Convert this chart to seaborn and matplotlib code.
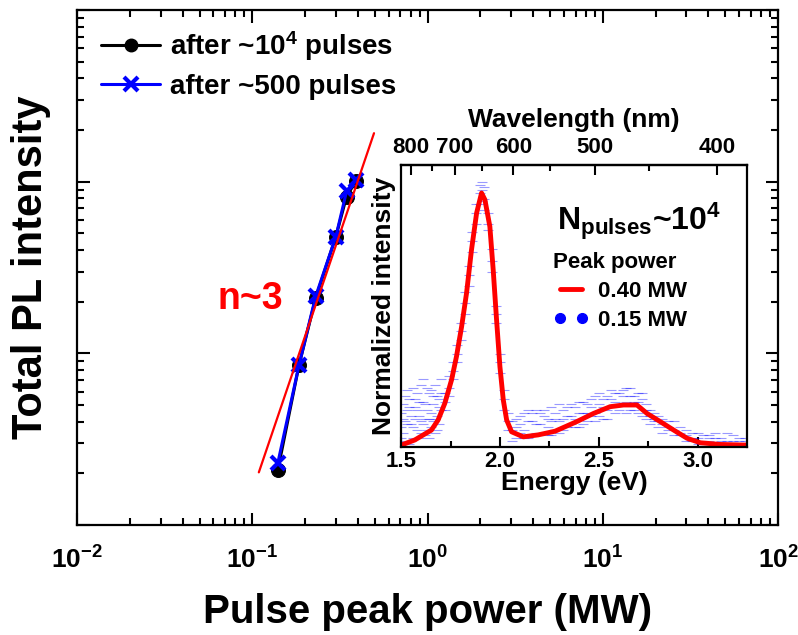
import numpy as np
import pandas as pd
import seaborn as sns
import matplotlib.pyplot as plt
from matplotlib.lines import Line2D
from matplotlib.ticker import FixedLocator, NullFormatter, LogLocator

# Main plot: total PL vs pulse peak power
power_10k = [0.14, 0.185, 0.23, 0.30, 0.345, 0.39]
pl_10k = [210, 860, 2100, 4800, 8200, 10100]
power_500 = [0.14, 0.185, 0.23, 0.30, 0.345, 0.39]
pl_500 = [231, 860, 2150, 4800, 8800, 10300]
fit_power = [0.109, 0.495]
fit_pl = [203, 19200]

# Inset: normalized spectrum at 0.40 MW
spec_energy = [1.50, 1.568, 1.652, 1.686, 1.72, 1.754, 1.779, 1.805, 1.83, 1.855,
               1.881, 1.906, 1.923, 1.948, 1.965, 1.982, 1.999, 2.016, 2.033,
               2.058, 2.117, 2.193, 2.278, 2.388, 2.473, 2.557, 2.625, 2.693,
               2.744, 2.811, 2.879, 2.947, 3.014, 3.116, 3.234, 3.25]
spec_040 = [0.006, 0.024, 0.059, 0.095, 0.154, 0.237, 0.32, 0.426, 0.545, 0.698,
            0.829, 0.90, 0.876, 0.781, 0.627, 0.45, 0.284, 0.166, 0.095,
            0.053, 0.035, 0.042, 0.055, 0.089, 0.118, 0.142, 0.148, 0.148,
            0.118, 0.089, 0.059, 0.030, 0.014, 0.008, 0.006, 0.006]

# Inset: noisy spectrum at 0.15 MW
blue_energy = [1.50, 1.51, 1.52, 1.53, 1.54, 1.55, 1.56, 1.57, 1.58, 1.59, 1.60,
               1.61, 1.62, 1.63, 1.64, 1.65, 1.66, 1.67, 1.68, 1.69, 1.70,
               1.72, 1.74, 1.76, 1.78, 1.80, 1.82, 1.84, 1.86, 1.88, 1.90, 1.91,
               1.92, 1.94, 1.96, 1.98, 2.00, 2.02, 2.04,
               2.06, 2.08, 2.10, 2.12, 2.14, 2.16, 2.18, 2.20, 2.22, 2.24, 2.26,
               2.28, 2.30, 2.32, 2.34, 2.36, 2.38, 2.40,
               2.42, 2.44, 2.46, 2.48, 2.50, 2.52, 2.54, 2.56, 2.58, 2.60, 2.62,
               2.64, 2.66, 2.68, 2.70, 2.72, 2.74, 2.76, 2.78, 2.80,
               2.82, 2.85, 2.88, 2.91, 2.94, 2.97, 3.00, 3.03, 3.06, 3.09, 3.12,
               3.15, 3.18, 3.21, 3.24]
blue_a = [0.12, 0.05, 0.18, 0.08, 0.14, 0.02, 0.21, 0.10, 0.06, 0.16, 0.09,
          0.24, 0.04, 0.13, 0.19, 0.07, 0.15, 0.22, 0.11, 0.17, 0.13,
          0.19, 0.18, 0.30, 0.36, 0.38, 0.55, 0.57, 0.76, 0.79, 0.93, 0.87,
          0.92, 0.77, 0.70, 0.44, 0.33, 0.17, 0.12,
          0.09, 0.03, 0.11, 0.06, 0.13, 0.04, 0.08, 0.12, 0.05, 0.10, 0.14,
          0.06, 0.09, 0.13, 0.07, 0.15, 0.10, 0.12,
          0.16, 0.09, 0.14, 0.18, 0.11, 0.17, 0.13, 0.20, 0.12, 0.19, 0.15,
          0.21, 0.13, 0.18, 0.12, 0.17, 0.10, 0.13, 0.09, 0.11,
          0.10, 0.06, 0.09, 0.04, 0.06, 0.02, 0.05, 0.01, 0.04, 0.03, 0.02,
          0.05, 0.01, 0.03, 0.02]
blue_b = [0.03, 0.15, 0.09, 0.20, 0.01, 0.11, 0.07, 0.17, 0.13, 0.03, 0.22,
          0.08, 0.15, 0.06, 0.10, 0.20, 0.09, 0.05, 0.18, 0.08, 0.24,
          0.13, 0.25, 0.24, 0.30, 0.44, 0.47, 0.64, 0.69, 0.86, 0.86, 0.94,
          0.84, 0.83, 0.62, 0.50, 0.26, 0.20, 0.06,
          0.02, 0.10, 0.05, 0.12, 0.03, 0.09, 0.13, 0.04, 0.11, 0.07, 0.04,
          0.12, 0.15, 0.06, 0.11, 0.08, 0.14, 0.07,
          0.08, 0.15, 0.11, 0.12, 0.19, 0.10, 0.18, 0.14, 0.19, 0.13, 0.20,
          0.12, 0.18, 0.16, 0.19, 0.11, 0.15, 0.08, 0.12, 0.07,
          0.05, 0.09, 0.04, 0.07, 0.02, 0.05, 0.01, 0.04, 0.02, 0.05, 0.01,
          0.02, 0.04, 0.01, 0.03]
blue_c = [0.07, 0.10, 0.02, 0.13, 0.17, 0.08, 0.03, 0.14, 0.19, 0.11, 0.05,
          0.16, 0.10, 0.21, 0.03, 0.12, 0.18, 0.10, 0.06, 0.14, 0.19,
          0.16, 0.21, 0.27, 0.33, 0.41, 0.51, 0.61, 0.73, 0.83, 0.90, 0.91,
          0.88, 0.79, 0.66, 0.47, 0.30, 0.13, 0.09,
          0.06, 0.07, 0.08, 0.03, 0.09, 0.12, 0.05, 0.08, 0.13, 0.04, 0.09,
          0.10, 0.05, 0.10, 0.14, 0.11, 0.07, 0.16,
          0.12, 0.12, 0.17, 0.09, 0.15, 0.14, 0.10, 0.17, 0.16, 0.15, 0.18,
          0.16, 0.21, 0.13, 0.16, 0.19, 0.13, 0.11, 0.10, 0.09,
          0.08, 0.07, 0.06, 0.05, 0.04, 0.03, 0.03, 0.02, 0.03, 0.01, 0.03,
          0.01, 0.02, 0.02, 0.01]

wl_major = [800, 700, 600, 500, 400]
wl_minor = [750, 650, 550, 450]

sns.set_style("ticks")
plt.rcParams['font.family'] = ['Liberation Sans', 'DejaVu Sans']
plt.rcParams['font.weight'] = 'bold'
plt.rcParams['mathtext.fontset'] = 'custom'
plt.rcParams['mathtext.rm'] = 'Liberation Sans:bold'
plt.rcParams['mathtext.it'] = 'Liberation Sans:bold'
plt.rcParams['mathtext.bf'] = 'Liberation Sans:bold'
plt.rcParams['mathtext.default'] = 'rm'
plt.rcParams['axes.unicode_minus'] = False
plt.rcParams['axes.linewidth'] = 1.6
for key in ['text.color', 'axes.labelcolor', 'xtick.color', 'ytick.color', 'axes.edgecolor']:
    plt.rcParams[key] = 'black'

fig = plt.figure(figsize=(7.98, 6.35), dpi=100)
ax = fig.add_axes([0.0965, 0.173, 0.8785, 0.811])

sns.lineplot(x=power_10k, y=pl_10k, ax=ax, color='black', marker='o',
             markersize=10, linewidth=2.2, markeredgecolor='black')
sns.lineplot(x=power_500, y=pl_500, ax=ax, color='blue', marker='x',
             markersize=10, linewidth=2.2, markeredgewidth=3, markeredgecolor='blue')
sns.lineplot(x=fit_power, y=fit_pl, ax=ax, color='red', linewidth=1.6)

ax.set_xscale('log')
ax.set_yscale('log')
ax.set_xlim(1e-2, 1e2)
ax.set_ylim(1e2, 1e5)
ax.xaxis.set_minor_locator(LogLocator(subs=np.arange(2, 10)))
ax.yaxis.set_minor_locator(LogLocator(subs=np.arange(2, 10)))
ax.yaxis.set_major_formatter(NullFormatter())
ax.yaxis.set_minor_formatter(NullFormatter())
ax.tick_params(which='both', direction='in', top=True, right=True, width=1.5)
ax.tick_params(which='major', length=9, labelsize=19, pad=15)
ax.tick_params(which='minor', length=5)
ax.set_xlabel('Pulse peak power (MW)', fontsize=29, fontweight='bold', labelpad=14)
ax.set_ylabel('Total PL intensity', fontsize=30, fontweight='bold', labelpad=4)

ax.text(0.2, 0.44, 'n~3', transform=ax.transAxes, color='red',
        fontsize=27, fontweight='bold', ha='left', va='center')

main_handles = [
    Line2D([], [], color='black', marker='o', markersize=9, linewidth=2.2),
    Line2D([], [], color='blue', marker='x', markersize=10, markeredgewidth=3, linewidth=2.2),
]
ax.legend(main_handles, ['after ~10$^{4}$ pulses', 'after ~500 pulses'],
          loc='upper left', bbox_to_anchor=(0.018, 0.985), frameon=False,
          fontsize=20, handlelength=2.15, handletextpad=0.35, labelspacing=0.4,
          borderaxespad=0)

# inset
ins = fig.add_axes([0.503, 0.2965, 0.433, 0.444])
blue_df = pd.DataFrame({'energy': blue_energy * 3,
                        'intensity': blue_a + blue_b + blue_c})
sns.scatterplot(data=blue_df, x='energy', y='intensity', ax=ins, marker='_',
                s=45, color='blue', alpha=0.4, linewidth=0.8)
sns.lineplot(x=spec_energy, y=spec_040, ax=ins, color='red', linewidth=3.5, sort=False)
ins.set_xlim(1.5, 3.25)
ins.set_ylim(0, 1)
ins.set_yticks([])
ins.set_xticks([1.5, 2.0, 2.5, 3.0])
ins.set_xticklabels(['1.5', '2.0', '2.5', '3.0'])
ins.xaxis.set_minor_locator(FixedLocator([1.75, 2.25, 2.75]))
ins.tick_params(axis='x', which='both', direction='in', width=1.5, labelsize=16, pad=3)
ins.tick_params(axis='x', which='major', length=7)
ins.tick_params(axis='x', which='minor', length=4)
ins.set_xlabel('Energy (eV)', fontsize=19, fontweight='bold', labelpad=-1)
ins.set_ylabel('Normalized intensity', fontsize=19, fontweight='bold', labelpad=4)

top = ins.secondary_xaxis('top', functions=(lambda e: 1240.0 / e, lambda w: 1240.0 / w))
top.set_xticks(wl_major)
top.set_xticklabels([str(w) for w in wl_major])
top.xaxis.set_minor_locator(FixedLocator(wl_minor))
top.tick_params(which='both', direction='in', width=1.5, labelsize=16, pad=5)
top.tick_params(which='major', length=7)
top.tick_params(which='minor', length=4)
top.set_xlabel('Wavelength (nm)', fontsize=19, fontweight='bold', labelpad=7)

ins.text(0.45, 0.80, 'N$_{pulses}$~10$^{4}$', transform=ins.transAxes,
         fontsize=23, fontweight='bold', ha='left', va='center')
ins_handles = [
    Line2D([], [], color='red', linewidth=3.5),
    Line2D([], [], color='blue', marker='o', linestyle='none', markersize=7),
]
leg = ins.legend(ins_handles, ['0.40 MW', '0.15 MW'], title='Peak power',
                 loc='upper left', bbox_to_anchor=(0.44, 0.69), frameon=False,
                 fontsize=16, title_fontsize=16, handlelength=1.6, numpoints=2,
                 handletextpad=0.4, labelspacing=0.35, borderaxespad=0,
                 borderpad=0, alignment='left')
leg.get_title().set_fontweight('bold')

fig.savefig('out.png', dpi=100)
